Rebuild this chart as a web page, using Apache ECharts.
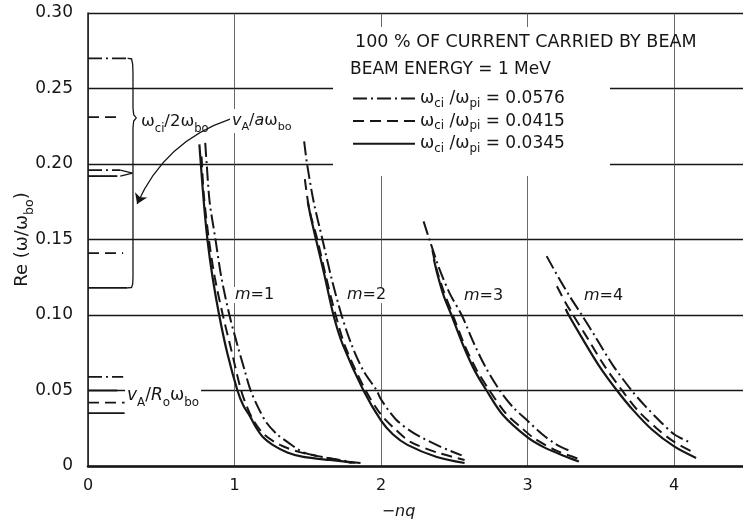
<!DOCTYPE html>
<html>
<head>
<meta charset="utf-8">
<script src="https://cdn.jsdelivr.net/npm/echarts@6/dist/echarts.min.js"></script>
<style>
  html, body { margin: 0; padding: 0; background: #fff; }
  #main { width: 743px; height: 527px; }
</style>
</head>
<body>
<div id="main"></div>
<script>
// curves: [-nq, Re(w/wbo)], one array per (m, wci/wpi)
const ratios = ['0.0576', '0.0415', '0.0345'];

const m1_0576 = [[0.80,0.214],[0.81,0.20],[0.83,0.175],[0.87,0.15],[0.91,0.125],[0.965,0.10],[1.02,0.08],[1.07,0.063],[1.11,0.05],[1.17,0.037],[1.22,0.0285],[1.29,0.021],[1.36,0.016],[1.47,0.009],[1.6,0.006],[1.72,0.004],[1.82,0.002]];
const m1_0415 = [[0.775,0.205],[0.79,0.18],[0.825,0.15],[0.865,0.125],[0.92,0.10],[0.975,0.078],[1.045,0.05],[1.09,0.038],[1.13,0.03],[1.2,0.021],[1.31,0.014],[1.45,0.009],[1.6,0.006],[1.8,0.002]];
const m1_0345 = [[0.76,0.213],[0.77,0.20],[0.79,0.175],[0.815,0.15],[0.85,0.125],[0.895,0.10],[0.95,0.075],[1.02,0.05],[1.06,0.04],[1.105,0.033],[1.15,0.025],[1.195,0.019],[1.26,0.014],[1.36,0.009],[1.47,0.006],[1.65,0.004],[1.86,0.002]];

const m2_0576 = [[1.475,0.215],[1.495,0.20],[1.54,0.175],[1.60,0.15],[1.66,0.125],[1.73,0.10],[1.80,0.08],[1.88,0.063],[1.97,0.05],[2.0,0.044],[2.1,0.031],[2.22,0.022],[2.4,0.013],[2.55,0.007]];
const m2_0415 = [[1.48,0.19],[1.51,0.17],[1.565,0.15],[1.625,0.125],[1.69,0.10],[1.76,0.078],[1.895,0.05],[2.0,0.034],[2.1,0.024],[2.2,0.016],[2.38,0.009],[2.57,0.004]];
const m2_0345 = [[1.50,0.175],[1.52,0.165],[1.556,0.15],[1.61,0.128],[1.675,0.10],[1.74,0.08],[1.88,0.05],[2.0,0.03],[2.08,0.021],[2.18,0.014],[2.38,0.006],[2.57,0.002]];

const m3_0576 = [[2.29,0.162],[2.33,0.15],[2.40,0.13],[2.47,0.114],[2.55,0.10],[2.63,0.082],[2.71,0.066],[2.81,0.05],[2.9,0.039],[3.0,0.03],[3.1,0.021],[3.2,0.014],[3.29,0.01]];
const m3_0415 = [[2.35,0.143],[2.38,0.13],[2.43,0.115],[2.49,0.10],[2.57,0.08],[2.65,0.064],[2.74,0.05],[2.85,0.035],[2.95,0.026],[3.05,0.018],[3.2,0.01],[3.34,0.005]];
const m3_0345 = [[2.36,0.137],[2.39,0.125],[2.43,0.112],[2.48,0.10],[2.56,0.08],[2.64,0.063],[2.72,0.05],[2.83,0.034],[3.0,0.019],[3.12,0.012],[3.24,0.007],[3.35,0.003]];

const m4_0576 = [[3.13,0.139],[3.21,0.125],[3.29,0.112],[3.37,0.10],[3.46,0.086],[3.58,0.067],[3.71,0.05],[3.8,0.04],[3.9,0.03],[4.0,0.021],[4.10,0.016]];
const m4_0415 = [[3.2,0.119],[3.26,0.108],[3.31,0.10],[3.4,0.086],[3.52,0.067],[3.645,0.05],[3.75,0.037],[3.88,0.025],[4.0,0.016],[4.14,0.0086]];
const m4_0345 = [[3.26,0.104],[3.28,0.10],[3.37,0.085],[3.49,0.066],[3.61,0.05],[3.72,0.037],[3.85,0.024],[4.0,0.013],[4.15,0.0053]];

// short marks on the left edge: [level, x end]
const refDashDot = [[0.27,0.272],[0.196,0.22],[0.059,0.24]];
const refDashed = [[0.231,0.22],[0.141,0.24],[0.042,0.25]];
const refSolid = [[0.192,0.2],[0.118,0.27],[0.05,0.2],[0.035,0.25]];

// brace round wci/2wbo, the small bracket above it, and the arrow from vA/awbo
const braceLine = [[0.27,0.27],[0.297,0.2697],[0.305,0.266],[0.307,0.26],[0.307,0.237],[0.312,0.2325],[0.33,0.2305],[0.312,0.2285],[0.307,0.224],[0.307,0.125],[0.305,0.1205],[0.297,0.1182],[0.27,0.118]];
const chevron = [[0.22,0.196],[0.305,0.194],[0.22,0.192]];
const arrowPath = [[0.97, 0.2297], [0.335, 0.1735]];

const yTicks = [0, 0.05, 0.10, 0.15, 0.20, 0.25, 0.30];
const xTicks = [0, 1, 2, 3, 4];

const ink = '#161616';
const font = 'DejaVu Sans';
const dashDot = [14, 4, 2, 4];
const dashed = [11, 6];

function ecRich(size, drop) {
  return {
    t: { fontSize: size, fontFamily: font, color: ink },
    i: { fontSize: size, fontFamily: font, color: ink, fontStyle: 'italic' },
    s: { fontSize: size * 0.7, fontFamily: font, color: ink, padding: [size * drop, 0, 0, 0] }
  };
}
function zrRich(size) {
  return {
    t: { fontSize: size, fontFamily: font, fill: ink },
    i: { fontSize: size, fontFamily: font, fill: ink, fontStyle: 'italic' },
    s: { fontSize: size * 0.7, fontFamily: font, fill: ink, padding: [size * 0.8, 0, 0, 0] }
  };
}

const curveSets = [
  [m1_0576, m1_0415, m1_0345],
  [m2_0576, m2_0415, m2_0345],
  [m3_0576, m3_0415, m3_0345],
  [m4_0576, m4_0415, m4_0345]
];
const styles = [
  { type: dashDot, width: 2 },
  { type: dashed, width: 2 },
  { type: 'solid', width: 2.2 }
];

const series = [];
curveSets.forEach(set => {
  set.forEach((pts, k) => {
    series.push({
      name: ratios[k], type: 'line', data: pts, symbol: 'none', smooth: 0.3,
      itemStyle: { color: ink },
      lineStyle: { color: ink, width: styles[k].width, type: styles[k].type },
      z: 3
    });
  });
});

function refSeries(list, type) {
  list.forEach(([v, xe]) => {
    series.push({
      type: 'line', data: [[0, v], [xe, v]], symbol: 'none',
      lineStyle: { color: ink, width: 1.8, type: type }, z: 3
    });
  });
}
refSeries(refDashDot, dashDot);
refSeries(refDashed, dashed);
refSeries(refSolid, 'solid');

series.push({
  type: 'line', data: braceLine, symbol: 'none',
  lineStyle: { color: ink, width: 1.3 }, z: 3
});
series.push({
  type: 'line', data: chevron, symbol: 'none',
  lineStyle: { color: ink, width: 1.3 }, z: 3
});
series.push({
  type: 'lines', coordinateSystem: 'cartesian2d', silent: true, z: 3,
  symbol: ['none', 'arrow'], symbolSize: 10,
  lineStyle: { color: ink, width: 1.2, curveness: -0.22, opacity: 1 },
  data: [{ coords: arrowPath }]
});

const notes = [
  { text: '{t|100 % OF CURRENT CARRIED BY BEAM}', x: 355, y: 42, size: 17.5 },
  { text: '{t|BEAM ENERGY = 1 MeV}', x: 350, y: 70, size: 17 },
  { text: '{t|ω}{s|ci}{t|/2ω}{s|bo}', x: 141, y: 122, size: 16.5 },
  { text: '{i|v}{s|A}{t|/}{i|a}{t|ω}{s|bo}', x: 230, y: 121, size: 16, bg: true },
  { text: '{i|v}{s|A}{t|/}{i|R}{s|o}{t|ω}{s|bo}', x: 125, y: 396, size: 17, bg: true },
  { text: '{i|m}{t|=1}', x: 233, y: 295, size: 16, bg: true },
  { text: '{i|m}{t|=2}', x: 345, y: 295, size: 16, bg: true },
  { text: '{i|m}{t|=3}', x: 462, y: 296, size: 16, bg: true },
  { text: '{i|m}{t|=4}', x: 582, y: 296, size: 16, bg: true }
];

const graphic = [
  { type: 'rect', shape: { x: 333, y: 27, width: 277, height: 149 }, style: { fill: '#fff' }, z: 1, silent: true }
];
notes.forEach(n => {
  graphic.push({
    type: 'text', x: n.x, y: n.y, z: 10, silent: true,
    style: {
      text: n.text, rich: zrRich(n.size), verticalAlign: 'middle', align: 'left',
      backgroundColor: n.bg ? '#fff' : null, padding: n.bg ? [0, 2, 0, 2] : 0
    }
  });
});

const chart = echarts.init(document.getElementById('main'), null, { renderer: 'canvas' });
chart.setOption({
  animation: false,
  backgroundColor: '#fff',
  grid: { left: 88, right: 0, top: 13, bottom: 61, outerBoundsMode: 'none', containLabel: false },
  legend: {
    data: ratios, orient: 'vertical', left: 347, top: 85,
    itemWidth: 62, itemHeight: 14, itemGap: 3,
    itemStyle: { opacity: 0 },
    formatter: name => '{t|ω}{s|ci}{t| /ω}{s|pi}{t| = ' + name + '}',
    textStyle: { fontSize: 17, fontFamily: font, color: ink, rich: ecRich(17, 0.6) },
    selectedMode: false
  },
  xAxis: {
    type: 'value', min: 0, max: 4.47, interval: 1,
    name: '−nq', nameLocation: 'middle', nameGap: 38,
    nameTextStyle: { fontSize: 16, fontFamily: font, color: ink, fontStyle: 'italic', padding: [0, 34, 0, 0] },
    axisLine: { show: true, lineStyle: { color: ink, width: 2.5 } },
    axisTick: { show: false },
    axisLabel: { margin: 12, fontSize: 16, fontFamily: font, color: ink, showMaxLabel: false,
      formatter: v => xTicks.includes(v) ? String(v) : '' },
    splitLine: { show: true, lineStyle: { color: '#444', width: 0.8 } }
  },
  yAxis: {
    type: 'value', min: 0, max: 0.30, interval: 0.05,
    name: '{t|Re (ω/ω}{s|bo}{t|)}', nameLocation: 'middle', nameGap: 52, nameRotate: 90,
    nameMoveOverlap: false,
    nameTextStyle: { rich: ecRich(18, 0.8) },
    axisLine: { show: true, lineStyle: { color: ink, width: 1.5 } },
    axisTick: { show: false },
    axisLabel: { margin: 15, fontSize: 17, fontFamily: font, color: ink,
      formatter: v => {
        const t = yTicks.find(y => Math.abs(y - v) < 1e-9);
        return t === 0 ? '0' : t.toFixed(2);
      } },
    splitLine: { show: true, lineStyle: { color: ink, width: 1.3 } }
  },
  graphic: graphic,
  series: series
});
</script>
</body>
</html>
